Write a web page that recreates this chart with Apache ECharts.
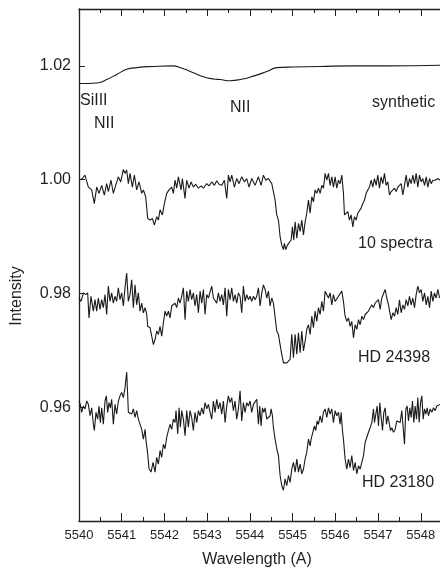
<!DOCTYPE html>
<html>
<head>
<meta charset="utf-8">
<script src="https://cdn.jsdelivr.net/npm/echarts@6/dist/echarts.min.js"></script>
<style>
html, body { margin: 0; padding: 0; background: #fff; }
#chart { width: 440px; height: 571px; }
</style>
</head>
<body>
<div id="chart"></div>
<script>
// [wavelength (A), intensity]

var synthetic = [
    [5540.000, 1.0169], [5540.415, 1.0170], [5540.649, 1.0176], [5540.883, 1.0185],
    [5541.117, 1.0194], [5541.351, 1.0197], [5541.740, 1.0199], [5542.171, 1.0200],
    [5542.443, 1.0195], [5542.677, 1.0188], [5542.911, 1.0181], [5543.145, 1.0177],
    [5543.302, 1.0176], [5543.536, 1.0174], [5543.770, 1.0176], [5544.082, 1.0182],
    [5544.396, 1.0190], [5544.644, 1.0197], [5545.019, 1.0198], [5545.644, 1.0199],
    [5546.424, 1.0200], [5547.206, 1.0200], [5548.454, 1.0201]
];

var tenSpectra = [
    [5540.020, 1.0000], [5540.078, 1.0002], [5540.140, 1.0008], [5540.219, 0.9987], [5540.297, 0.9982],
    [5540.359, 0.9958], [5540.414, 0.9987], [5540.468, 0.9976], [5540.531, 0.9990], [5540.593, 0.9973],
    [5540.648, 0.9993], [5540.687, 0.9979], [5540.749, 0.9999], [5540.804, 0.9976], [5540.859, 0.9990],
    [5540.921, 1.0005], [5540.976, 0.9996], [5541.038, 1.0018], [5541.077, 1.0011], [5541.116, 1.0017],
    [5541.155, 0.9993], [5541.194, 1.0011], [5541.249, 0.9987], [5541.296, 1.0008], [5541.350, 0.9982],
    [5541.405, 0.9996], [5541.468, 0.9976], [5541.507, 0.9982], [5541.561, 0.9970], [5541.608, 0.9932],
    [5541.663, 0.9929], [5541.717, 0.9932], [5541.764, 0.9920], [5541.819, 0.9935], [5541.858, 0.9929],
    [5541.897, 0.9947], [5541.952, 0.9938], [5541.998, 0.9958], [5542.053, 0.9976], [5542.108, 0.9982],
    [5542.170, 0.9987], [5542.209, 0.9976], [5542.248, 0.9999], [5542.287, 0.9985], [5542.326, 1.0005],
    [5542.389, 0.9982], [5542.420, 1.0002], [5542.482, 0.9967], [5542.521, 0.9999], [5542.576, 0.9985],
    [5542.623, 0.9996], [5542.677, 0.9987], [5542.732, 0.9992], [5542.795, 0.9985], [5542.857, 0.9989],
    [5542.912, 0.9985], [5542.990, 0.9993], [5543.044, 0.9989], [5543.107, 0.9996], [5543.169, 0.9990],
    [5543.224, 0.9998], [5543.278, 0.9992], [5543.341, 0.9990], [5543.403, 0.9999], [5543.458, 0.9967],
    [5543.497, 1.0008], [5543.536, 0.9996], [5543.575, 1.0008], [5543.638, 0.9987], [5543.692, 1.0002],
    [5543.747, 0.9993], [5543.809, 1.0005], [5543.872, 0.9996], [5543.926, 1.0002], [5543.981, 0.9987],
    [5544.043, 1.0002], [5544.122, 0.9990], [5544.200, 1.0005], [5544.262, 0.9990], [5544.317, 1.0008],
    [5544.372, 0.9999], [5544.434, 1.0002], [5544.512, 0.9993], [5544.551, 0.9996], [5544.590, 0.9964],
    [5544.629, 0.9938], [5544.668, 0.9929], [5544.707, 0.9900], [5544.746, 0.9885], [5544.785, 0.9877],
    [5544.809, 0.9888], [5544.840, 0.9877], [5544.879, 0.9885], [5544.918, 0.9882], [5544.965, 0.9894],
    [5544.996, 0.9917], [5545.027, 0.9894], [5545.059, 0.9926], [5545.098, 0.9897], [5545.137, 0.9923],
    [5545.176, 0.9909], [5545.215, 0.9929], [5545.254, 0.9903], [5545.293, 0.9926], [5545.332, 0.9941],
    [5545.371, 0.9964], [5545.410, 0.9941], [5545.449, 0.9970], [5545.488, 0.9961], [5545.527, 0.9982],
    [5545.566, 0.9976], [5545.605, 0.9985], [5545.644, 0.9976], [5545.683, 0.9990], [5545.722, 0.9985],
    [5545.761, 1.0011], [5545.800, 0.9999], [5545.839, 1.0011], [5545.878, 0.9990], [5545.917, 1.0005],
    [5545.956, 0.9987], [5545.995, 1.0005], [5546.034, 0.9985], [5546.073, 0.9999], [5546.112, 0.9993],
    [5546.151, 1.0008], [5546.190, 0.9976], [5546.214, 0.9938], [5546.253, 0.9935], [5546.292, 0.9944],
    [5546.331, 0.9929], [5546.370, 0.9938], [5546.409, 0.9917], [5546.448, 0.9935], [5546.487, 0.9929],
    [5546.526, 0.9941], [5546.565, 0.9938], [5546.604, 0.9950], [5546.643, 0.9958], [5546.682, 0.9964],
    [5546.721, 0.9976], [5546.760, 0.9982], [5546.799, 0.9987], [5546.838, 0.9999], [5546.877, 0.9987],
    [5546.916, 1.0002], [5546.955, 0.9990], [5546.994, 1.0008], [5547.033, 0.9985], [5547.072, 1.0005],
    [5547.111, 0.9993], [5547.150, 1.0011], [5547.189, 0.9990], [5547.229, 0.9996], [5547.268, 0.9973],
    [5547.307, 0.9979], [5547.346, 0.9976], [5547.385, 0.9985], [5547.424, 0.9979], [5547.463, 0.9987],
    [5547.502, 0.9985], [5547.541, 0.9993], [5547.580, 0.9973], [5547.619, 0.9990], [5547.658, 1.0008],
    [5547.697, 0.9987], [5547.736, 1.0002], [5547.775, 0.9993], [5547.814, 1.0008], [5547.853, 0.9993],
    [5547.892, 1.0011], [5547.931, 0.9987], [5547.970, 1.0008], [5548.009, 0.9996], [5548.048, 1.0002],
    [5548.088, 0.9990], [5548.127, 1.0005], [5548.166, 0.9987], [5548.205, 1.0002], [5548.244, 0.9993],
    [5548.283, 0.9999], [5548.337, 0.9999], [5548.400, 1.0002], [5548.454, 0.9999]
];

var hd24398 = [
    [5540.000, 0.9792], [5540.047, 0.9786], [5540.102, 0.9801], [5540.156, 0.9798], [5540.203, 0.9801],
    [5540.234, 0.9757], [5540.281, 0.9795], [5540.336, 0.9769], [5540.375, 0.9789], [5540.414, 0.9769],
    [5540.453, 0.9792], [5540.492, 0.9772], [5540.531, 0.9789], [5540.570, 0.9775], [5540.609, 0.9798],
    [5540.648, 0.9763], [5540.687, 0.9813], [5540.726, 0.9786], [5540.765, 0.9801], [5540.804, 0.9783],
    [5540.843, 0.9795], [5540.882, 0.9786], [5540.921, 0.9810], [5540.960, 0.9789], [5540.999, 0.9801],
    [5541.038, 0.9778], [5541.077, 0.9810], [5541.116, 0.9836], [5541.155, 0.9786], [5541.194, 0.9798],
    [5541.233, 0.9824], [5541.272, 0.9775], [5541.311, 0.9815], [5541.350, 0.9780], [5541.389, 0.9801],
    [5541.428, 0.9769], [5541.468, 0.9783], [5541.507, 0.9766], [5541.546, 0.9775], [5541.585, 0.9763],
    [5541.608, 0.9742], [5541.663, 0.9740], [5541.702, 0.9725], [5541.741, 0.9710], [5541.780, 0.9719],
    [5541.819, 0.9734], [5541.858, 0.9728], [5541.897, 0.9742], [5541.936, 0.9725], [5541.975, 0.9748],
    [5542.014, 0.9769], [5542.053, 0.9760], [5542.092, 0.9769], [5542.131, 0.9757], [5542.170, 0.9778],
    [5542.209, 0.9775], [5542.248, 0.9783], [5542.287, 0.9775], [5542.326, 0.9792], [5542.365, 0.9783],
    [5542.404, 0.9795], [5542.443, 0.9810], [5542.482, 0.9754], [5542.521, 0.9804], [5542.560, 0.9786],
    [5542.599, 0.9807], [5542.638, 0.9789], [5542.677, 0.9801], [5542.716, 0.9778], [5542.755, 0.9798],
    [5542.795, 0.9766], [5542.834, 0.9804], [5542.873, 0.9783], [5542.912, 0.9807], [5542.951, 0.9763],
    [5542.990, 0.9798], [5543.029, 0.9792], [5543.068, 0.9795], [5543.107, 0.9813], [5543.146, 0.9792],
    [5543.185, 0.9795], [5543.224, 0.9783], [5543.263, 0.9801], [5543.302, 0.9786], [5543.341, 0.9798],
    [5543.380, 0.9780], [5543.419, 0.9810], [5543.458, 0.9760], [5543.497, 0.9807], [5543.536, 0.9789],
    [5543.575, 0.9810], [5543.614, 0.9786], [5543.653, 0.9798], [5543.692, 0.9783], [5543.731, 0.9801],
    [5543.770, 0.9795], [5543.809, 0.9766], [5543.848, 0.9813], [5543.887, 0.9786], [5543.926, 0.9798],
    [5543.965, 0.9789], [5544.004, 0.9795], [5544.043, 0.9786], [5544.083, 0.9795], [5544.122, 0.9789],
    [5544.161, 0.9795], [5544.200, 0.9810], [5544.239, 0.9778], [5544.278, 0.9801], [5544.317, 0.9815],
    [5544.356, 0.9807], [5544.395, 0.9792], [5544.434, 0.9804], [5544.473, 0.9778], [5544.512, 0.9792],
    [5544.551, 0.9783], [5544.590, 0.9786], [5544.629, 0.9734], [5544.668, 0.9728], [5544.707, 0.9710],
    [5544.746, 0.9693], [5544.785, 0.9678], [5544.824, 0.9681], [5544.863, 0.9678], [5544.902, 0.9681],
    [5544.941, 0.9684], [5544.980, 0.9728], [5545.020, 0.9687], [5545.059, 0.9728], [5545.098, 0.9693],
    [5545.137, 0.9731], [5545.176, 0.9696], [5545.215, 0.9734], [5545.254, 0.9699], [5545.293, 0.9716],
    [5545.332, 0.9737], [5545.371, 0.9745], [5545.410, 0.9728], [5545.449, 0.9760], [5545.488, 0.9740],
    [5545.527, 0.9769], [5545.566, 0.9751], [5545.605, 0.9775], [5545.644, 0.9763], [5545.683, 0.9786],
    [5545.722, 0.9769], [5545.761, 0.9804], [5545.800, 0.9807], [5545.839, 0.9792], [5545.878, 0.9801],
    [5545.917, 0.9780], [5545.956, 0.9798], [5545.995, 0.9786], [5546.034, 0.9789], [5546.073, 0.9795],
    [5546.112, 0.9792], [5546.151, 0.9804], [5546.190, 0.9786], [5546.229, 0.9760], [5546.268, 0.9751],
    [5546.307, 0.9757], [5546.346, 0.9742], [5546.385, 0.9751], [5546.425, 0.9722], [5546.464, 0.9745],
    [5546.503, 0.9737], [5546.542, 0.9754], [5546.581, 0.9745], [5546.620, 0.9760], [5546.659, 0.9754],
    [5546.698, 0.9763], [5546.737, 0.9760], [5546.776, 0.9769], [5546.815, 0.9772], [5546.854, 0.9780],
    [5546.893, 0.9775], [5546.932, 0.9783], [5546.971, 0.9780], [5547.010, 0.9789], [5547.049, 0.9772],
    [5547.088, 0.9792], [5547.127, 0.9789], [5547.166, 0.9807], [5547.205, 0.9792], [5547.244, 0.9780],
    [5547.283, 0.9778], [5547.307, 0.9754], [5547.346, 0.9766], [5547.385, 0.9760], [5547.424, 0.9775],
    [5547.463, 0.9763], [5547.502, 0.9789], [5547.541, 0.9766], [5547.580, 0.9780], [5547.619, 0.9772],
    [5547.658, 0.9789], [5547.697, 0.9778], [5547.736, 0.9795], [5547.775, 0.9780], [5547.814, 0.9792],
    [5547.853, 0.9775], [5547.892, 0.9798], [5547.931, 0.9813], [5547.970, 0.9801], [5548.009, 0.9807],
    [5548.048, 0.9786], [5548.088, 0.9801], [5548.127, 0.9780], [5548.166, 0.9795], [5548.205, 0.9775],
    [5548.244, 0.9804], [5548.283, 0.9786], [5548.321, 0.9801], [5548.360, 0.9792], [5548.400, 0.9807],
    [5548.439, 0.9792]
];

var hd23180 = [
    [5540.000, 0.9611], [5540.031, 0.9605], [5540.062, 0.9591], [5540.102, 0.9602], [5540.141, 0.9597],
    [5540.180, 0.9611], [5540.219, 0.9605], [5540.258, 0.9585], [5540.297, 0.9599], [5540.336, 0.9570],
    [5540.359, 0.9559], [5540.398, 0.9591], [5540.437, 0.9579], [5540.468, 0.9602], [5540.500, 0.9573],
    [5540.531, 0.9599], [5540.570, 0.9570], [5540.609, 0.9611], [5540.640, 0.9620], [5540.671, 0.9591],
    [5540.703, 0.9608], [5540.734, 0.9599], [5540.765, 0.9614], [5540.804, 0.9570], [5540.843, 0.9605],
    [5540.882, 0.9588], [5540.921, 0.9611], [5540.960, 0.9620], [5540.999, 0.9626], [5541.038, 0.9617],
    [5541.077, 0.9634], [5541.116, 0.9662], [5541.140, 0.9620], [5541.155, 0.9591], [5541.194, 0.9594],
    [5541.233, 0.9588], [5541.272, 0.9597], [5541.311, 0.9582], [5541.350, 0.9594], [5541.389, 0.9579],
    [5541.428, 0.9576], [5541.468, 0.9561], [5541.507, 0.9544], [5541.546, 0.9561], [5541.569, 0.9541],
    [5541.608, 0.9518], [5541.639, 0.9492], [5541.686, 0.9486], [5541.733, 0.9503], [5541.780, 0.9486],
    [5541.819, 0.9512], [5541.858, 0.9500], [5541.897, 0.9524], [5541.936, 0.9512], [5541.975, 0.9535],
    [5542.014, 0.9527], [5542.053, 0.9547], [5542.092, 0.9559], [5542.131, 0.9570], [5542.170, 0.9561],
    [5542.209, 0.9579], [5542.248, 0.9573], [5542.271, 0.9594], [5542.311, 0.9553], [5542.342, 0.9599],
    [5542.373, 0.9565], [5542.404, 0.9594], [5542.443, 0.9579], [5542.482, 0.9550], [5542.521, 0.9594],
    [5542.560, 0.9565], [5542.599, 0.9594], [5542.638, 0.9582], [5542.677, 0.9559], [5542.716, 0.9591],
    [5542.755, 0.9573], [5542.795, 0.9594], [5542.834, 0.9585], [5542.873, 0.9599], [5542.912, 0.9588],
    [5542.951, 0.9608], [5542.990, 0.9597], [5543.029, 0.9605], [5543.068, 0.9591], [5543.107, 0.9579],
    [5543.146, 0.9611], [5543.185, 0.9591], [5543.224, 0.9614], [5543.263, 0.9597], [5543.302, 0.9608],
    [5543.341, 0.9588], [5543.380, 0.9611], [5543.419, 0.9573], [5543.458, 0.9602], [5543.497, 0.9620],
    [5543.536, 0.9608], [5543.575, 0.9617], [5543.614, 0.9594], [5543.653, 0.9611], [5543.692, 0.9579],
    [5543.731, 0.9597], [5543.770, 0.9629], [5543.809, 0.9576], [5543.848, 0.9608], [5543.887, 0.9591],
    [5543.926, 0.9608], [5543.965, 0.9602], [5544.004, 0.9611], [5544.043, 0.9591], [5544.083, 0.9605],
    [5544.122, 0.9602], [5544.161, 0.9614], [5544.200, 0.9570], [5544.231, 0.9602], [5544.262, 0.9567],
    [5544.294, 0.9599], [5544.325, 0.9591], [5544.356, 0.9599], [5544.395, 0.9579], [5544.434, 0.9576],
    [5544.473, 0.9585], [5544.497, 0.9597], [5544.528, 0.9585], [5544.551, 0.9564], [5544.590, 0.9544],
    [5544.629, 0.9527], [5544.668, 0.9515], [5544.707, 0.9480], [5544.746, 0.9462], [5544.785, 0.9454],
    [5544.824, 0.9474], [5544.863, 0.9462], [5544.902, 0.9480], [5544.941, 0.9468], [5544.980, 0.9491],
    [5545.020, 0.9503], [5545.059, 0.9486], [5545.098, 0.9509], [5545.137, 0.9486], [5545.176, 0.9500],
    [5545.215, 0.9483], [5545.254, 0.9491], [5545.293, 0.9509], [5545.332, 0.9521], [5545.371, 0.9544],
    [5545.410, 0.9532], [5545.433, 0.9544], [5545.464, 0.9553], [5545.511, 0.9567], [5545.543, 0.9559],
    [5545.574, 0.9576], [5545.605, 0.9570], [5545.644, 0.9585], [5545.683, 0.9573], [5545.722, 0.9591],
    [5545.761, 0.9597], [5545.800, 0.9582], [5545.839, 0.9599], [5545.878, 0.9588], [5545.917, 0.9597],
    [5545.956, 0.9573], [5545.995, 0.9594], [5546.034, 0.9585], [5546.073, 0.9591], [5546.112, 0.9570],
    [5546.136, 0.9591], [5546.167, 0.9559], [5546.190, 0.9544], [5546.229, 0.9509], [5546.268, 0.9491],
    [5546.307, 0.9509], [5546.346, 0.9494], [5546.385, 0.9515], [5546.425, 0.9489], [5546.464, 0.9503],
    [5546.503, 0.9483], [5546.542, 0.9497], [5546.581, 0.9491], [5546.620, 0.9503], [5546.659, 0.9515],
    [5546.698, 0.9538], [5546.737, 0.9541], [5546.776, 0.9556], [5546.815, 0.9564], [5546.854, 0.9573],
    [5546.893, 0.9597], [5546.916, 0.9573], [5546.948, 0.9588], [5546.979, 0.9602], [5547.010, 0.9567],
    [5547.041, 0.9608], [5547.073, 0.9582], [5547.104, 0.9559], [5547.135, 0.9591], [5547.166, 0.9599],
    [5547.197, 0.9570], [5547.229, 0.9585], [5547.260, 0.9573], [5547.291, 0.9559], [5547.322, 0.9564],
    [5547.361, 0.9556], [5547.400, 0.9561], [5547.439, 0.9576], [5547.478, 0.9579], [5547.517, 0.9573],
    [5547.556, 0.9594], [5547.595, 0.9591], [5547.619, 0.9535], [5547.650, 0.9597], [5547.681, 0.9602],
    [5547.713, 0.9576], [5547.744, 0.9599], [5547.775, 0.9582], [5547.806, 0.9611], [5547.837, 0.9573],
    [5547.869, 0.9602], [5547.900, 0.9579], [5547.931, 0.9617], [5547.962, 0.9573], [5547.994, 0.9608],
    [5548.025, 0.9620], [5548.056, 0.9579], [5548.088, 0.9597], [5548.119, 0.9588], [5548.150, 0.9599],
    [5548.181, 0.9585], [5548.220, 0.9597], [5548.259, 0.9591], [5548.298, 0.9599], [5548.337, 0.9594],
    [5548.376, 0.9602], [5548.415, 0.9602], [5548.454, 0.9605]
];

// axis ticks
var xMajorTicks = [5540, 5541, 5542, 5543, 5544, 5545, 5546, 5547, 5548];
var xMinorTicks = [5540.5, 5541.5, 5542.5, 5543.5, 5544.5, 5545.5, 5546.5, 5547.5];
var yTicks = [0.96, 0.98, 1.00, 1.02];

// line labels and where they sit (pixels)
var labelTexts = ['SiIII', 'NII', 'NII', 'synthetic', '10 spectra', 'HD 24398', 'HD 23180'];
var labelPos = [[80, 100.5], [94, 124], [230, 107.5], [372, 102.5], [358, 244], [358, 357.5], [362, 482.5]];

var ink = '#231f20';
var fontFam = '"Liberation Sans", Arial, sans-serif';

var graphics = labelTexts.map(function (t, i) {
    return {
        type: 'text',
        x: labelPos[i][0],
        y: labelPos[i][1],
        style: { text: t, fill: ink, font: '16px ' + fontFam, align: 'left', verticalAlign: 'middle' }
    };
});
graphics.push({
    type: 'text', x: 257, y: 560,
    style: { text: 'Wavelength (A)', fill: ink, font: '16px ' + fontFam, align: 'center', verticalAlign: 'middle' }
});
graphics.push({
    type: 'text', x: 17, y: 296, rotation: Math.PI / 2,
    style: { text: 'Intensity', fill: ink, font: '16px ' + fontFam, align: 'center', verticalAlign: 'middle' }
});

function spectrum(data, smooth) {
    return {
        type: 'line',
        data: data,
        xAxisIndex: 0,
        showSymbol: false,
        smooth: smooth,
        clip: true,
        silent: true,
        lineStyle: { color: '#1a1a1a', width: 1.1 },
        animation: false
    };
}

// one axis per tick set: major ticks (with labels) and minor ticks, bottom and top
function xAxisDef(pos, ticks, len, showLine, showLabel) {
    return {
        type: 'value',
        position: pos,
        min: 5540,
        max: 5548.45,
        splitLine: { show: false },
        axisLine: { show: showLine, onZero: false, lineStyle: { color: ink, width: 1.3 } },
        axisTick: { show: true, inside: true, length: len, customValues: ticks, lineStyle: { color: ink, width: 1 } },
        axisLabel: {
            show: showLabel, margin: 8, color: ink, fontSize: 13, fontFamily: fontFam,
            customValues: ticks,
            formatter: function (v) { return String(Math.round(v)); }
        }
    };
}

var option = {
    backgroundColor: '#fff',
    animation: false,
    grid: { left: 79, right: 0, top: 9, bottom: 50, containLabel: false },
    graphic: graphics,
    xAxis: [
        xAxisDef('bottom', xMajorTicks, 8, true, true),
        xAxisDef('bottom', xMinorTicks, 4, false, false),
        xAxisDef('top', xMajorTicks, 7, true, false),
        xAxisDef('top', xMinorTicks, 4, false, false)
    ],
    yAxis: {
        type: 'value',
        min: 0.94,
        max: 1.03,
        splitLine: { show: false },
        axisLine: { show: true, onZero: false, lineStyle: { color: ink, width: 1.3 } },
        axisTick: { show: true, inside: true, length: 6, customValues: yTicks, lineStyle: { color: ink, width: 1 } },
        axisLabel: {
            margin: 8, color: ink, fontSize: 16, fontFamily: fontFam,
            customValues: yTicks,
            formatter: function (v) { return v.toFixed(2); }
        }
    },
    series: [
        spectrum(synthetic, true),
        spectrum(tenSpectra, false),
        spectrum(hd24398, false),
        spectrum(hd23180, false)
    ]
};

var myChart = echarts.init(document.getElementById('chart'));
myChart.setOption(option);
</script>
</body>
</html>
